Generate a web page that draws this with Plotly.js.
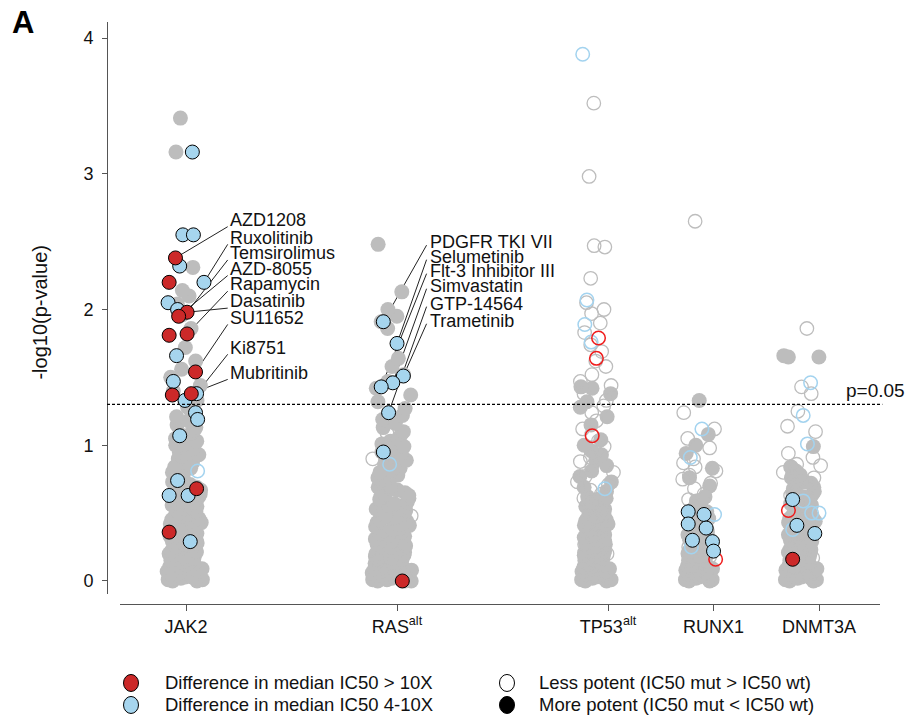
<!DOCTYPE html>
<html><head><meta charset="utf-8">
<script src="https://cdn.plot.ly/plotly-3.0.1.min.js"></script>
<style>html,body{margin:0;padding:0;background:#fff;}</style>
</head><body>
<div id="chart" style="width:909px;height:717px"></div>
<script>
// ---------------- categories ----------------
const categories = ['JAK2', 'RAS<sup>alt</sup>', 'TP53<sup>alt</sup>', 'RUNX1', 'DNMT3A'];
const categoryTick = [1, 3, 5, 6, 7];
const cloudCenter = [1.00, 2.96, 4.89, 5.87, 6.84];
const pThreshold = 1.301; // -log10(0.05)

// ---------------- grey (non-significant) drugs: -log10(p) ----------------
const jak2Filled = [0.00,0.00,0.01,0.01,0.02,0.02,0.03,0.03,0.04,0.05,0.05,0.06,0.07,0.07,0.08,0.09,0.10,0.10,0.11,0.12,0.13,0.13,0.14,0.15,0.16,0.17,0.17,0.18,0.19,0.20,0.21,0.22,0.22,0.23,0.24,0.25,0.26,0.27,0.28,0.29,0.30,0.31,0.32,0.33,0.34,0.35,0.36,0.37,0.38,0.39,0.40,0.41,0.42,0.43,0.44,0.45,0.46,0.47,0.48,0.49,0.50,0.51,0.52,0.54,0.55,0.56,0.57,0.58,0.59,0.61,0.62,0.63,0.64,0.66,0.67,0.68,0.69,0.71,0.72,0.73,0.75,0.76,0.77,0.79,0.80,0.81,0.83,0.84,0.86,0.87,0.89,0.90,0.92,0.93,0.95,0.96,0.98,1.00,1.01,1.03,1.05,1.07,1.09,1.11,1.13,1.15,1.18,1.21,1.24,1.28];
const jak2FilledHigh = [1.33,1.40,1.44,1.50,1.56,1.62,1.72,1.86,1.96,2.04,2.10,2.14,2.31,3.16,3.41];

const rasFilled = [0.00,0.00,0.00,0.01,0.01,0.02,0.02,0.03,0.03,0.04,0.04,0.05,0.06,0.06,0.07,0.08,0.08,0.09,0.10,0.10,0.11,0.12,0.13,0.13,0.14,0.15,0.16,0.17,0.17,0.18,0.19,0.20,0.21,0.22,0.23,0.23,0.24,0.25,0.26,0.27,0.28,0.29,0.30,0.31,0.32,0.33,0.34,0.35,0.36,0.37,0.38,0.39,0.40,0.41,0.42,0.43,0.44,0.45,0.46,0.47,0.48,0.49,0.50,0.51,0.52,0.53,0.54,0.55,0.56,0.57,0.58,0.60,0.61,0.62,0.63,0.64,0.65,0.67,0.68,0.69,0.70,0.72,0.73,0.74,0.76,0.77,0.78,0.80,0.81,0.83,0.84,0.86,0.87,0.89,0.90,0.92,0.94,0.95,0.97,0.99,1.01,1.03,1.05,1.08,1.10,1.13,1.16,1.19,1.22];
const rasFilledHigh = [1.27,1.32,1.37,1.42,1.47,1.52,1.58,1.64,1.86,1.91,1.95,2.00,2.13,2.48];
const rasOpen = [0.05,0.15,0.48,0.90,1.09];

const tp53Filled = [0.00,0.00,0.01,0.01,0.02,0.02,0.03,0.03,0.04,0.05,0.05,0.06,0.07,0.07,0.08,0.09,0.09,0.10,0.11,0.12,0.12,0.13,0.14,0.15,0.15,0.16,0.17,0.18,0.19,0.19,0.20,0.21,0.22,0.23,0.24,0.25,0.25,0.26,0.27,0.28,0.29,0.30,0.31,0.32,0.33,0.34,0.35,0.36,0.37,0.38,0.39,0.40,0.41,0.42,0.43,0.44,0.45,0.46,0.47,0.48,0.49,0.50,0.51,0.52,0.53,0.55,0.56,0.57,0.58,0.60,0.61,0.62];
const tp53FilledHigh = [0.66,0.69,0.73,0.77,0.81,0.85,0.89,0.93,0.96,1.00,1.04,1.15,1.21,1.28,1.32,1.38,1.42,1.43];
const tp53Open = [0.04,0.12,0.20,0.27,0.33,0.40,0.46,0.52,0.57,0.61,0.64,0.67,0.71,0.73,0.77,0.80,0.84,0.88,0.91,0.95,0.99,1.03,1.08,1.12,1.18,1.24,1.29];
const tp53OpenHigh = [1.33,1.38,1.44,1.47,1.52,1.58,1.62,1.69,1.74,1.83,1.90,1.97,2.00,2.05,2.23,2.46,2.47,2.98,3.52];

const runx1Filled = [0.00,0.00,0.01,0.01,0.02,0.02,0.03,0.04,0.04,0.05,0.06,0.06,0.07,0.08,0.08,0.09,0.10,0.11,0.11,0.12,0.13,0.14,0.14,0.15,0.16,0.17,0.18,0.18,0.19,0.20,0.21,0.22,0.23,0.24,0.25,0.26,0.27,0.28,0.29,0.30,0.31,0.32,0.33,0.34,0.35,0.36,0.37,0.38,0.39,0.41,0.42,0.43,0.45,0.46,0.48,0.49,0.51,0.53,0.55,0.57,0.59,0.62];
const runx1FilledHigh = [0.70,0.76,0.83,0.94,1.00,1.08,1.33];
const runx1Open = [0.05,0.10,0.18,0.25,0.32,0.38,0.44,0.50,0.55,0.60,0.64,0.68,0.72,0.75,0.78,0.81,0.84,0.87,0.90];
const runx1OpenHigh = [0.98,1.05,1.12,1.24,2.65];

const dnmt3aFilled = [0.00,0.00,0.01,0.01,0.02,0.02,0.03,0.04,0.04,0.05,0.06,0.06,0.07,0.08,0.08,0.09,0.10,0.11,0.11,0.12,0.13,0.14,0.15,0.15,0.16,0.17,0.18,0.19,0.20,0.21,0.21,0.22,0.23,0.24,0.25,0.26,0.27,0.28,0.29,0.30,0.31,0.32,0.33,0.34,0.35,0.36,0.37,0.38,0.39,0.40,0.41,0.42,0.43,0.44,0.45,0.46,0.47,0.48,0.49,0.50,0.51,0.53,0.54,0.55,0.56,0.57,0.59,0.60,0.61,0.62,0.64,0.65,0.66,0.68,0.69,0.70,0.72,0.73,0.75,0.76,0.78,0.79,0.81,0.82,0.84];
const dnmt3aFilledHigh = [0.99,1.65,1.65,1.66];
const dnmt3aOpen = [0.03,0.10,0.17,0.24,0.31,0.38,0.45,0.52,0.58,0.63,0.68,0.72,0.76,0.80,0.84,0.85,0.86];
const dnmt3aOpenHigh = [0.91,0.94,1.10,1.14,1.25,1.38,1.43,1.86];

// ---------------- highlighted drugs (value, horizontal jitter) ----------------
const jak2BlueY  = [3.16,2.55,2.55,2.32,2.20,2.05,2.00,1.66,1.47,1.38,1.33,1.24,1.19,1.07,0.74,0.63,0.63,0.29];
const jak2BlueDx = [0.06,-0.03,0.07,-0.06,0.17,-0.17,-0.08,-0.09,-0.12,0.10,-0.01,0.09,0.11,-0.06,-0.08,-0.16,0.02,0.04];
const jak2RedY   = [2.38,2.20,1.98,1.95,1.82,1.81,1.54,1.38,1.37,0.68,0.36];
const jak2RedDx  = [-0.10,-0.16,0.01,-0.07,0.01,-0.16,0.09,0.05,-0.13,0.10,-0.16];
const jak2OpenBlueY = [0.81];
const jak2OpenBlueDx = [0.11];

const rasBlueY  = [1.91,1.75,1.51,1.46,1.43,1.24,0.95];
const rasBlueDx = [-0.09,0.04,0.10,0.00,-0.11,-0.04,-0.09];
const rasRedY = [0.00];
const rasRedDx = [0.09];
const rasOpenBlueY = [0.86];
const rasOpenBlueDx = [-0.03];

const tp53OpenBlueY  = [3.88,2.07,1.89,1.76,0.68];
const tp53OpenBlueDx = [-0.13,-0.09,-0.11,-0.05,0.08];
const tp53OpenRedY  = [1.79,1.64,1.07];
const tp53OpenRedDx = [0.02,0.00,-0.04];

const runx1BlueY  = [0.51,0.49,0.42,0.39,0.30,0.29,0.22];
const runx1BlueDx = [-0.11,0.04,-0.11,0.06,-0.07,0.12,0.13];
const runx1OpenBlueY  = [1.12,0.91,0.49,0.25];
const runx1OpenBlueDx = [0.02,-0.09,0.14,-0.08];
const runx1OpenRedY  = [0.16];
const runx1OpenRedDx = [0.15];

const dnmt3aBlueY  = [0.60,0.41,0.35];
const dnmt3aBlueDx = [-0.09,-0.05,0.12];
const dnmt3aRedY  = [0.16];
const dnmt3aRedDx = [-0.09];
const dnmt3aOpenBlueY  = [1.46,1.22,1.01,0.59,0.50,0.50,0.38];
const dnmt3aOpenBlueDx = [0.08,0.01,0.05,0.01,0.09,0.16,-0.09];
const dnmt3aOpenRedY  = [0.52];
const dnmt3aOpenRedDx = [-0.13];

// ---------------- drug labels ----------------
const jak2Labels = ['AZD1208','Ruxolitinib','Temsirolimus','AZD-8055','Rapamycin','Dasatinib','SU11652','Ki8751','Mubritinib'];
const jak2LabelTarget = [['red',0],['blue',4],['red',2],['red',3],['red',4],['red',2],['red',6],['blue',9],['red',7]];
const jak2LabelY = [2.66,2.53,2.415,2.30,2.185,2.06,1.94,1.72,1.535];

const rasLabels = ['PDGFR TKI VII','Selumetinib','Flt-3 Inhibitor III','Simvastatin','GTP-14564','Trametinib'];
const rasLabelTarget = [['blue',0],['blue',1],['blue',4],['blue',3],['blue',5],['blue',2]];
const rasLabelY = [2.494,2.387,2.284,2.173,2.041,1.915];

// legend (two columns x two rows)
const legendNames = ['Difference in median IC50 > 10X','Difference in median IC50 4-10X','Less potent (IC50 mut > IC50 wt)','More potent (IC50 mut < IC50 wt)'];

// ---------------- styles ----------------
const FONT = 'Liberation Sans, Arial, Helvetica, sans-serif';
const GRAY = '#bdbdbd';
const BLUE = '#a6d5ee';
const RED = '#cc2929';
const OPEN_BLUE = '#a3d3ef';
const OPEN_RED = '#f01c1c';
const cloudWidth = [0.40, 0.45, 0.37, 0.36, 0.41];
const legendFill = [RED, BLUE, '#ffffff', '#000000'];
const legendCol = [0.03105, 0.03105, 0.51746, 0.51746];   // circle centre (paper x)
const legendTextCol = [0.07245, 0.07245, 0.55627, 0.55627];
const legendRow = [-0.1357, -0.1735, -0.1357, -0.1735];   // paper y

const filledGray = {symbol:'circle', size:15, color:GRAY, line:{width:0}};
const openGray = {symbol:'circle-open', size:13.5, color:GRAY, line:{width:1.3, color:GRAY}};
const filledBlue = {symbol:'circle', size:14, color:BLUE, line:{width:1, color:'#000'}};
const filledRed = {symbol:'circle', size:14, color:RED, line:{width:1, color:'#000'}};
const openBlue = {symbol:'circle-open', size:13.5, color:OPEN_BLUE, line:{width:1.5, color:OPEN_BLUE}};
const openRed = {symbol:'circle-open', size:13.5, color:OPEN_RED, line:{width:1.5, color:OPEN_RED}};

function cloud(y, g, marker) {
  return {type:'box', y:y, x0:cloudCenter[g], width:cloudWidth[g], boxpoints:'all', jitter:1, pointpos:0,
    fillcolor:'rgba(0,0,0,0)', line:{width:0, color:'rgba(0,0,0,0)'}, whiskerwidth:0,
    marker:marker, showlegend:false, hoverinfo:'y'};
}
function pts(y, dx, g, marker) {
  return {type:'scatter', mode:'markers', x:dx.map(d => cloudCenter[g] + d), y:y, marker:marker,
    showlegend:false, hoverinfo:'y', cliponaxis:false};
}

const traces = [
  cloud(jak2Filled, 0, filledGray), cloud(jak2FilledHigh, 0, filledGray),
  cloud(rasFilled, 1, filledGray), cloud(rasFilledHigh, 1, filledGray),
  cloud(tp53Filled, 2, filledGray), cloud(tp53FilledHigh, 2, filledGray),
  cloud(runx1Filled, 3, filledGray), cloud(runx1FilledHigh, 3, filledGray),
  cloud(dnmt3aFilled, 4, filledGray), cloud(dnmt3aFilledHigh, 4, filledGray),
  cloud(rasOpen, 1, openGray),
  cloud(tp53Open, 2, openGray), cloud(tp53OpenHigh, 2, openGray),
  cloud(runx1Open, 3, openGray), cloud(runx1OpenHigh, 3, openGray),
  cloud(dnmt3aOpen, 4, openGray), cloud(dnmt3aOpenHigh, 4, openGray),
  pts(jak2OpenBlueY, jak2OpenBlueDx, 0, openBlue),
  pts(rasOpenBlueY, rasOpenBlueDx, 1, openBlue),
  pts(tp53OpenBlueY, tp53OpenBlueDx, 2, openBlue),
  pts(tp53OpenRedY, tp53OpenRedDx, 2, openRed),
  pts(runx1OpenBlueY, runx1OpenBlueDx, 3, openBlue),
  pts(runx1OpenRedY, runx1OpenRedDx, 3, openRed),
  pts(dnmt3aOpenBlueY, dnmt3aOpenBlueDx, 4, openBlue),
  pts(dnmt3aOpenRedY, dnmt3aOpenRedDx, 4, openRed),
  pts(jak2BlueY, jak2BlueDx, 0, filledBlue),
  pts(jak2RedY, jak2RedDx, 0, filledRed),
  pts(rasBlueY, rasBlueDx, 1, filledBlue),
  pts(rasRedY, rasRedDx, 1, filledRed),
  pts(runx1BlueY, runx1BlueDx, 3, filledBlue),
  pts(dnmt3aBlueY, dnmt3aBlueDx, 4, filledBlue),
  pts(dnmt3aRedY, dnmt3aRedDx, 4, filledRed)
];

// ---------------- annotations & leader lines ----------------
const annotations = [];
const shapes = [];
function targetXY(group, target) {
  const [series, idx] = target;
  const c = cloudCenter;
  if (group === 'jak2') {
    return series === 'red' ? [c[0] + jak2RedDx[idx], jak2RedY[idx]] : [c[0] + jak2BlueDx[idx], jak2BlueY[idx]];
  }
  return series === 'red' ? [c[1] + rasRedDx[idx], rasRedY[idx]] : [c[1] + rasBlueDx[idx], rasBlueY[idx]];
}
const jak2TextX = 1.395, rasTextX = 3.29;
jak2Labels.forEach((t, i) => {
  annotations.push({xref:'x', yref:'y', x:jak2TextX, y:jak2LabelY[i], text:t, showarrow:false,
    xanchor:'left', yanchor:'middle', font:{family:FONT, size:18, color:'#111'}});
  const [px, py] = targetXY('jak2', jak2LabelTarget[i]);
  shapes.push({type:'line', xref:'x', yref:'y', x0:jak2TextX, y0:jak2LabelY[i] - 0.05, x1:px, y1:py,
    line:{color:'#222', width:1}, layer:'below'});
});
rasLabels.forEach((t, i) => {
  annotations.push({xref:'x', yref:'y', x:rasTextX, y:rasLabelY[i], text:t, showarrow:false,
    xanchor:'left', yanchor:'middle', font:{family:FONT, size:18, color:'#111'}});
  const [px, py] = targetXY('ras', rasLabelTarget[i]);
  shapes.push({type:'line', xref:'x', yref:'y', x0:rasTextX - 0.01, y0:rasLabelY[i] - 0.02, x1:px, y1:py,
    line:{color:'#222', width:1}, layer:'below'});
});
shapes.push({type:'line', xref:'paper', yref:'y', x0:0, x1:1.003, y0:pThreshold, y1:pThreshold,
  line:{color:'#000', width:1.2, dash:'3px,2px'}, layer:'above'});
annotations.push({xref:'paper', yref:'y', x:0.953, y:pThreshold, text:'p=0.05', showarrow:false,
  xanchor:'left', yanchor:'bottom', yshift:1, font:{family:FONT, size:19, color:'#111'}});
annotations.push({xref:'paper', yref:'paper', x:-0.125, y:1.0, text:'<b>A</b>', showarrow:false,
  xanchor:'left', yanchor:'middle', font:{family:FONT, size:31, color:'#000'}});
annotations.push({xref:'paper', yref:'paper', x:-0.087, y:0.502, text:'-log10(p-value)', showarrow:false,
  textangle:-90, xanchor:'center', yanchor:'middle', font:{family:FONT, size:20, color:'#111'}});

// legend: symbol circles + texts
legendNames.forEach((n, i) => {
  shapes.push({type:'circle', xref:'paper', yref:'paper', xsizemode:'pixel', ysizemode:'pixel',
    xanchor:legendCol[i], yanchor:legendRow[i], x0:-7.5, x1:7.5, y0:-8.5, y1:8.5,
    fillcolor:legendFill[i], line:{color:'#000', width:1}, layer:'above'});
  annotations.push({xref:'paper', yref:'paper', x:legendTextCol[i], y:legendRow[i], text:n, showarrow:false,
    xanchor:'left', yanchor:'middle', font:{family:FONT, size:18.5, color:'#111'}});
});

const layout = {
  width:909, height:717,
  margin:{l:107, r:29, t:22, b:113, autoexpand:false},
  paper_bgcolor:'#fff', plot_bgcolor:'rgba(0,0,0,0)',
  font:{family:FONT, size:18, color:'#111'},
  showlegend:false,
  boxmode:'overlay', boxgap:0, boxgroupgap:0,
  xaxis:{type:'linear', domain:[0.0168,1], anchor:'free', position:0, range:[0.374,7.578],
    showgrid:false, zeroline:false, showline:true, linecolor:'#555', linewidth:1,
    ticks:'outside', ticklen:6, tickcolor:'#555', tickvals:categoryTick, ticktext:categories,
    tickfont:{family:FONT, size:18, color:'#111'}},
  yaxis:{type:'linear', domain:[0.0172,1], anchor:'free', position:0, range:[-0.0958,4.118],
    showgrid:false, zeroline:false, showline:true, linecolor:'#555', linewidth:1,
    ticks:'outside', ticklen:5, tickcolor:'#555', tickvals:[0,1,2,3,4], ticklabelstandoff:5,
    tickfont:{family:FONT, size:18, color:'#111'}},
  shapes:shapes,
  annotations:annotations
};

Plotly.newPlot('chart', traces, layout, {staticPlot:true, displayModeBar:false});
</script>
</body></html>
